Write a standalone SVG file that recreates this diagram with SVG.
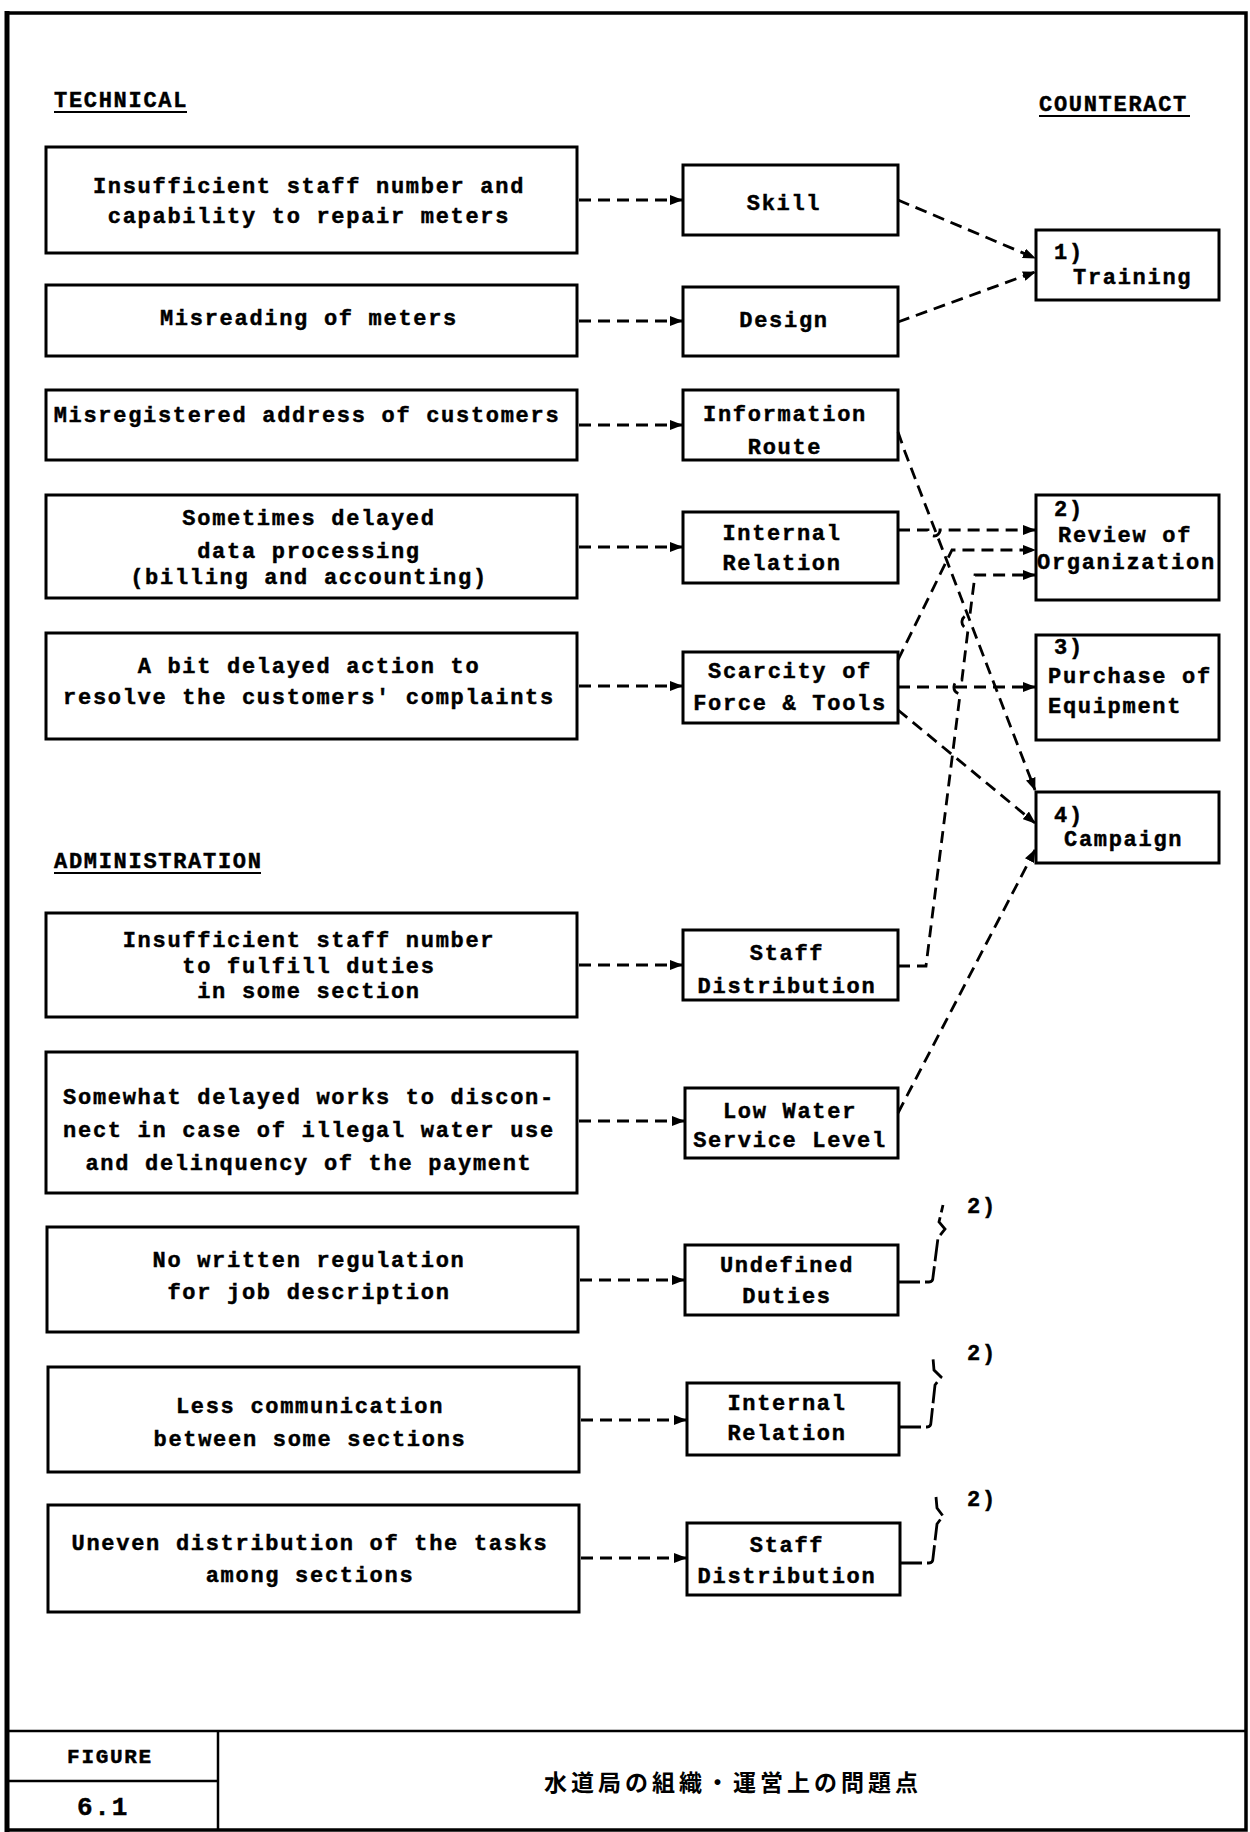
<svg xmlns="http://www.w3.org/2000/svg" width="1250" height="1832" viewBox="0 0 1250 1832">
<style>
.bg{fill:#fff}
.frame{fill:none;stroke:#000;stroke-width:3.5}
.rule{stroke:#000;stroke-width:2.5;fill:none}
.box{fill:#fff;stroke:#000;stroke-width:3}
.t{font-family:"Liberation Mono","DejaVu Sans Mono",monospace;font-weight:bold;font-size:22px;letter-spacing:1.7px;fill:#000;stroke:#000;stroke-width:0.45}
.c{text-anchor:middle}
.ul{stroke:#000;stroke-width:2}
.con{fill:none;stroke:#000;stroke-width:2.8;stroke-dasharray:12 7}
.br{fill:none;stroke:#000;stroke-width:2.8;stroke-dasharray:22 5}
.jp{font-family:"Noto Sans CJK JP","Noto Sans CJK SC",sans-serif;font-weight:bold;font-size:23px;letter-spacing:4px;fill:#000}
</style>
<defs>
<marker id="ah" markerUnits="userSpaceOnUse" markerWidth="13" markerHeight="10" refX="12" refY="5" orient="auto">
<path d="M0,0 L13,5 L0,10 z" fill="#000"/>
</marker>
</defs>
<rect class="bg" x="0" y="0" width="1250" height="1832"/>
<rect class="frame" x="7" y="13" width="1239" height="1817"/>
<line x1="7" y1="11" x2="7" y2="1832" stroke="#000" stroke-width="5"/>

<g id="headings">
<text class="t" x="54" y="107">TECHNICAL</text>
<line class="ul" x1="54" y1="112" x2="187" y2="112"/>
<text class="t" x="1039" y="111">COUNTERACT</text>
<line class="ul" x1="1039" y1="116" x2="1190" y2="116"/>
<text class="t" x="54" y="868">ADMINISTRATION</text>
<line class="ul" x1="54" y1="873" x2="261" y2="873"/>
</g>

<g id="p1"><rect class="box" x="46" y="147" width="531" height="106"/>
<text class="t c" x="309" y="193">Insufficient staff number and</text>
<text class="t c" x="309" y="223">capability to repair meters</text></g>
<g id="p2"><rect class="box" x="46" y="285" width="531" height="71"/>
<text class="t c" x="309" y="325">Misreading of meters</text></g>
<g id="p3"><rect class="box" x="46" y="390" width="531" height="70"/>
<text class="t c" x="307" y="422">Misregistered address of customers</text></g>
<g id="p4"><rect class="box" x="46" y="495" width="531" height="103"/>
<text class="t c" x="309" y="525">Sometimes delayed</text>
<text class="t c" x="309" y="558">data processing</text>
<text class="t c" x="309" y="584">(billing and accounting)</text></g>
<g id="p5"><rect class="box" x="46" y="633" width="531" height="106"/>
<text class="t c" x="309" y="673">A bit delayed action to</text>
<text class="t c" x="309" y="704">resolve the customers' complaints</text></g>
<g id="p6"><rect class="box" x="46" y="913" width="531" height="104"/>
<text class="t c" x="309" y="947">Insufficient staff number</text>
<text class="t c" x="309" y="973">to fulfill duties</text>
<text class="t c" x="309" y="998">in some section</text></g>
<g id="p7"><rect class="box" x="46" y="1052" width="531" height="141"/>
<text class="t c" x="309" y="1104">Somewhat delayed works to discon-</text>
<text class="t c" x="309" y="1137">nect in case of illegal water use</text>
<text class="t c" x="309" y="1170">and delinquency of the payment</text></g>
<g id="p8"><rect class="box" x="47" y="1227" width="531" height="105"/>
<text class="t c" x="309" y="1267">No written regulation</text>
<text class="t c" x="309" y="1299">for job description</text></g>
<g id="p9"><rect class="box" x="48" y="1367" width="531" height="105"/>
<text class="t c" x="310" y="1413">Less communication</text>
<text class="t c" x="310" y="1446">between some sections</text></g>
<g id="p10"><rect class="box" x="48" y="1505" width="531" height="107"/>
<text class="t c" x="310" y="1550">Uneven distribution of the tasks</text>
<text class="t c" x="310" y="1582">among sections</text></g>

<g id="m1"><rect class="box" x="683" y="165" width="215" height="70"/>
<text class="t c" x="784" y="210">Skill</text></g>
<g id="m2"><rect class="box" x="683" y="287" width="215" height="69"/>
<text class="t c" x="784" y="327">Design</text></g>
<g id="m3"><rect class="box" x="683" y="390" width="215" height="70"/>
<text class="t c" x="785" y="421">Information</text>
<text class="t c" x="785" y="454">Route</text></g>
<g id="m4"><rect class="box" x="683" y="512" width="215" height="71"/>
<text class="t c" x="782" y="540">Internal</text>
<text class="t c" x="782" y="570">Relation</text></g>
<g id="m5"><rect class="box" x="683" y="652" width="215" height="71"/>
<text class="t c" x="790" y="678">Scarcity of</text>
<text class="t c" x="790" y="710">Force &amp; Tools</text></g>
<g id="m6"><rect class="box" x="683" y="930" width="215" height="70"/>
<text class="t c" x="787" y="960">Staff</text>
<text class="t c" x="787" y="993">Distribution</text></g>
<g id="m7"><rect class="box" x="685" y="1088" width="213" height="70"/>
<text class="t c" x="790" y="1118">Low Water</text>
<text class="t c" x="790" y="1147">Service Level</text></g>
<g id="m8"><rect class="box" x="685" y="1245" width="213" height="70"/>
<text class="t c" x="787" y="1272">Undefined</text>
<text class="t c" x="787" y="1303">Duties</text></g>
<g id="m9"><rect class="box" x="687" y="1383" width="212" height="72"/>
<text class="t c" x="787" y="1410">Internal</text>
<text class="t c" x="787" y="1440">Relation</text></g>
<g id="m10"><rect class="box" x="687" y="1523" width="213" height="72"/>
<text class="t c" x="787" y="1552">Staff</text>
<text class="t c" x="787" y="1583">Distribution</text></g>

<g id="r1"><rect class="box" x="1036" y="230" width="183" height="70"/>
<text class="t" x="1054" y="259">1)</text>
<text class="t" x="1073" y="284">Training</text></g>
<g id="r2"><rect class="box" x="1036" y="495" width="183" height="105"/>
<text class="t" x="1054" y="516">2)</text>
<text class="t" x="1058" y="542">Review of</text>
<text class="t" x="1037" y="569">Organization</text></g>
<g id="r3"><rect class="box" x="1036" y="635" width="183" height="105"/>
<text class="t" x="1054" y="654">3)</text>
<text class="t" x="1048" y="683">Purchase of</text>
<text class="t" x="1048" y="713">Equipment</text></g>
<g id="r4"><rect class="box" x="1036" y="792" width="183" height="71"/>
<text class="t" x="1054" y="822">4)</text>
<text class="t" x="1064" y="846">Campaign</text></g>

<g id="refs">
<text class="t" x="967" y="1213">2)</text>
<text class="t" x="967" y="1360">2)</text>
<text class="t" x="967" y="1506">2)</text>
</g>

<g id="connectors">
<path class="con" d="M579,200 H682" marker-end="url(#ah)"/>
<path class="con" d="M579,321 H682" marker-end="url(#ah)"/>
<path class="con" d="M579,425 H682" marker-end="url(#ah)"/>
<path class="con" d="M579,547 H682" marker-end="url(#ah)"/>
<path class="con" d="M579,686 H682" marker-end="url(#ah)"/>
<path class="con" d="M579,965 H682" marker-end="url(#ah)"/>
<path class="con" d="M579,1121 H684" marker-end="url(#ah)"/>
<path class="con" d="M580,1280 H684" marker-end="url(#ah)"/>
<path class="con" d="M581,1420 H686" marker-end="url(#ah)"/>
<path class="con" d="M581,1558 H686" marker-end="url(#ah)"/>

<path class="con" d="M898,200 L1035,258" marker-end="url(#ah)"/>
<path class="con" d="M898,322 L1035,272" marker-end="url(#ah)"/>
<path class="con" d="M898,432 L905,452 L1035,790" marker-end="url(#ah)"/>
<path class="con" d="M898,530 H928 A6,6 0 0 0 940,530 H1035" marker-end="url(#ah)"/>
<path class="con" d="M898,660 L952,550 H1035" marker-end="url(#ah)"/>
<path class="con" d="M898,966 H926 L960.1,694 A7,7 0 0 1 961.9,680 L968.1,629 A7,7 0 0 1 969.9,615 L975,575 H1035" marker-end="url(#ah)"/>
<path class="con" d="M898,687 H1035" marker-end="url(#ah)"/>
<path class="con" d="M898,710 L1035,823" marker-end="url(#ah)"/>
<path class="con" d="M898,1113 L1035,850" marker-end="url(#ah)"/>

<path class="br" d="M898,1282 H929 Q933,1282 933,1277 L938,1238 L945,1229 L939,1222 L943,1205"/>
<path class="br" d="M899,1427 H927 Q931,1427 931,1422 L935,1385 L941,1377 L934,1370 L933,1358"/>
<path class="br" d="M900,1563 H929 Q933,1563 933,1558 L937,1524 L943,1516 L937,1508 L936,1497"/>
</g>

<g id="titleblock">
<line class="rule" x1="7" y1="1731" x2="1246" y2="1731"/>
<line class="rule" x1="7" y1="1781" x2="218" y2="1781"/>
<line class="rule" x1="218" y1="1731" x2="218" y2="1830"/>
<text class="t c" x="110" y="1763" style="font-size:21px">FIGURE</text>
<text class="t c" x="103" y="1815" style="font-size:26px">6.1</text>
<text class="jp" x="544" y="1791">水道局の組織・運営上の問題点</text>
</g>
</svg>
